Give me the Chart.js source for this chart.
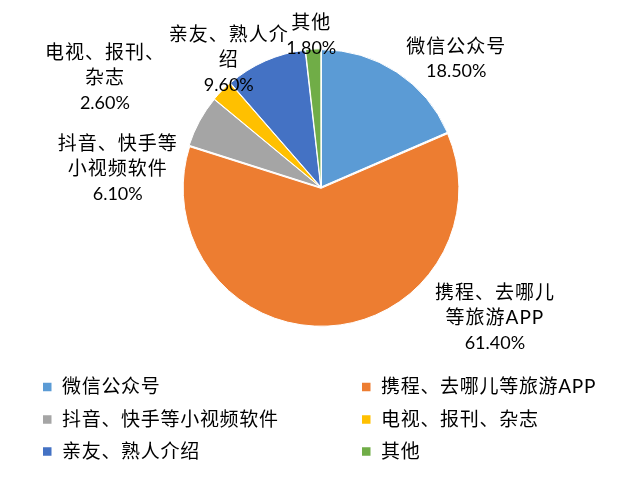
<!DOCTYPE html>
<html>
<head>
<meta charset="utf-8">
<script src="https://cdn.jsdelivr.net/npm/chart.js@4.4.1/dist/chart.umd.min.js"></script>
<style>
  html, body { margin: 0; padding: 0; background: #fff; }
  #wrap { width: 624px; height: 485px; position: relative; }
</style>
</head>
<body>
<div id="wrap"><canvas id="pieChart"></canvas></div>
<script>
// Data
const categories = ['微信公众号', '携程、去哪儿等旅游APP', '抖音、快手等小视频软件', '电视、报刊、杂志', '亲友、熟人介绍', '其他'];
const shares = [18.5, 61.4, 6.1, 2.6, 9.6, 1.8];
// how the data labels are wrapped in the picture
const labelLines = [
    ['微信公众号'],
    ['携程、去哪儿', '等旅游APP'],
    ['抖音、快手等', '小视频软件'],
    ['电视、报刊、', '杂志'],
    ['亲友、熟人介', '绍'],
    ['其他']
];
const colors = ['#5B9BD5', '#ED7D31', '#A5A5A5', '#FFC000', '#4472C4', '#70AD47'];

// label block offsets from the outer edge at the middle of each slice
const labelOffsets = [[60, -14], [167, -6], [-83, 47], [-118, -14], [-37, -2], [-2, -15]];

const TEXT_FONT = '19px Lato, "Noto Sans CJK SC", sans-serif';
const NUM_FONT = '18px Lato, "Noto Sans CJK SC", sans-serif';

const outsideLabels = {
    id: 'outsideLabels',
    afterDatasetsDraw(chart) {
        const ctx = chart.ctx;
        const meta = chart.getDatasetMeta(0);
        const r = chart.data.datasets[0].radius;
        ctx.save();
        ctx.fillStyle = '#000';
        ctx.textAlign = 'center';
        ctx.textBaseline = 'middle';
        meta.data.forEach((arc, i) => {
            const mid = (arc.startAngle + arc.endAngle) / 2;
            const cx = arc.x + Math.cos(mid) * r + labelOffsets[i][0];
            const cy = arc.y + Math.sin(mid) * r + labelOffsets[i][1];
            const lines = labelLines[i];
            const n = lines.length + 1;
            ctx.font = TEXT_FONT;
            ctx.letterSpacing = '1px';
            lines.forEach((t, k) => {
                ctx.fillText(t, cx, cy + (k - (n - 1) / 2) * 25);
            });
            ctx.font = NUM_FONT;
            ctx.letterSpacing = '0px';
            ctx.fillText(shares[i].toFixed(2) + '%', cx, cy + ((n - 1) / 2) * 25);
        });
        ctx.restore();
    }
};

const twoColumnLegend = {
    id: 'twoColumnLegend',
    afterDraw(chart) {
        const ctx = chart.ctx;
        const colX = [43, 362];
        const rowY = [387, 419.5, 451.5];
        ctx.save();
        ctx.font = TEXT_FONT;
        ctx.letterSpacing = '0.7px';
        ctx.textAlign = 'left';
        ctx.textBaseline = 'middle';
        chart.data.labels.forEach((name, i) => {
            const x = colX[i % 2];
            const y = rowY[Math.floor(i / 2)];
            ctx.fillStyle = chart.data.datasets[0].backgroundColor[i];
            ctx.fillRect(x, y - 4.25, 8.5, 8.5);
            ctx.fillStyle = '#000';
            ctx.fillText(name, x + 19, y);
        });
        ctx.restore();
    }
};

new Chart(document.getElementById('pieChart'), {
    type: 'pie',
    data: {
        labels: categories,
        datasets: [{
            data: shares,
            backgroundColor: colors,
            borderColor: '#fff',
            borderWidth: 1,
            offset: 3.5,
            radius: 137
        }]
    },
    options: {
        responsive: true,
        maintainAspectRatio: false,
        animation: false,
        layout: {
            padding: { left: 18, right: 0, top: 0, bottom: 110 }
        },
        plugins: {
            legend: { display: false },
            tooltip: { enabled: false }
        }
    },
    plugins: [outsideLabels, twoColumnLegend]
});
</script>
</body>
</html>
